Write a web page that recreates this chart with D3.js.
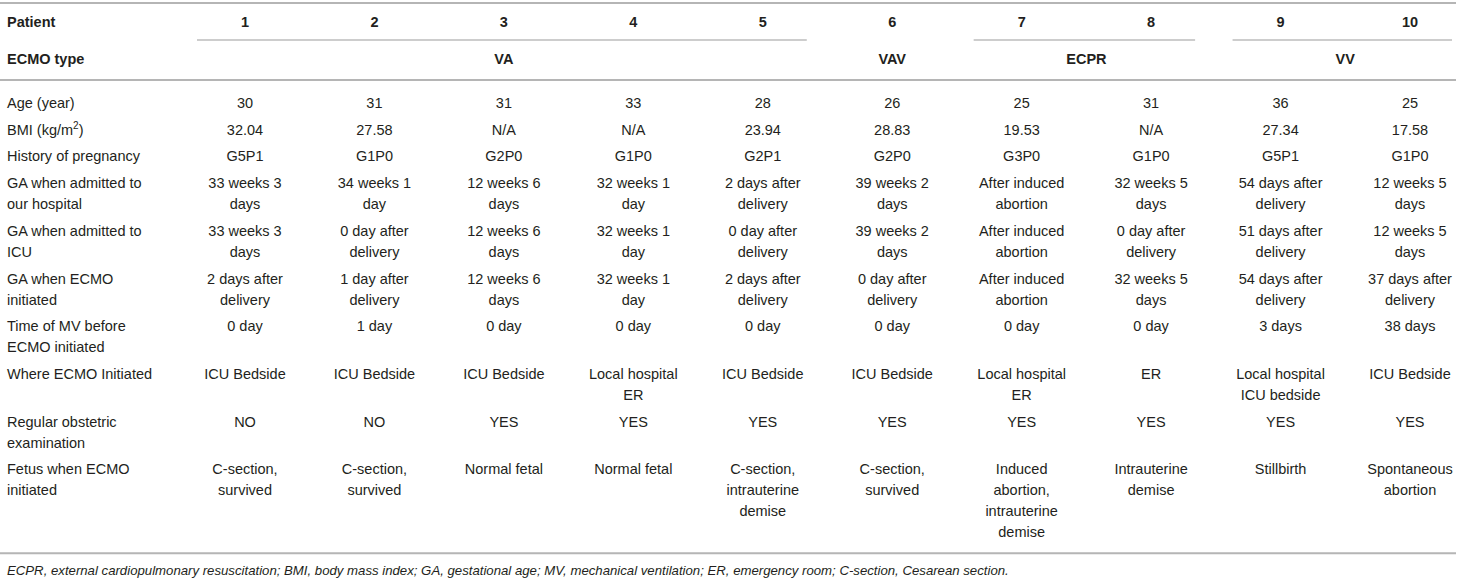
<!DOCTYPE html>
<html>
<head>
<meta charset="utf-8">
<script src="https://cdn.jsdelivr.net/npm/d3@7"></script>
<style>
  body { margin: 0; background: #fff; }
  svg text { font-family: "Liberation Sans", Arial, Helvetica, sans-serif; fill: #231f20; }
</style>
</head>
<body>
<svg id="chart"></svg>
<script>
const w = 1458;
const h = 581;
const lineH = 21;
const fontSize = 14.5;

// header data
const patients = ["1", "2", "3", "4", "5", "6", "7", "8", "9", "10"];
const ecmoGroups = [
  { type: "VA", first: "1", last: "5" },
  { type: "VAV", first: "6", last: "6" },
  { type: "ECPR", first: "7", last: "8" },
  { type: "VV", first: "9", last: "10" }
];

// row labels ("|" = line break, "^" = superscript)
const rowLabels = [
  "Age (year)",
  "BMI (kg/m^2)",
  "History of pregnancy",
  "GA when admitted to|our hospital",
  "GA when admitted to|ICU",
  "GA when ECMO|initiated",
  "Time of MV before|ECMO initiated",
  "Where ECMO Initiated",
  "Regular obstetric|examination",
  "Fetus when ECMO|initiated"
];

const age = ["30", "31", "31", "33", "28", "26", "25", "31", "36", "25"];
const bmi = ["32.04", "27.58", "N/A", "N/A", "23.94", "28.83", "19.53", "N/A", "27.34", "17.58"];
const pregnancy = ["G5P1", "G1P0", "G2P0", "G1P0", "G2P1", "G2P0", "G3P0", "G1P0", "G5P1", "G1P0"];
const gaHospital = ["33 weeks 3|days", "34 weeks 1|day", "12 weeks 6|days", "32 weeks 1|day", "2 days after|delivery",
                    "39 weeks 2|days", "After induced|abortion", "32 weeks 5|days", "54 days after|delivery", "12 weeks 5|days"];
const gaIcu = ["33 weeks 3|days", "0 day after|delivery", "12 weeks 6|days", "32 weeks 1|day", "0 day after|delivery",
               "39 weeks 2|days", "After induced|abortion", "0 day after|delivery", "51 days after|delivery", "12 weeks 5|days"];
const gaEcmo = ["2 days after|delivery", "1 day after|delivery", "12 weeks 6|days", "32 weeks 1|day", "2 days after|delivery",
                "0 day after|delivery", "After induced|abortion", "32 weeks 5|days", "54 days after|delivery", "37 days after|delivery"];
const mvTime = ["0 day", "1 day", "0 day", "0 day", "0 day", "0 day", "0 day", "0 day", "3 days", "38 days"];
const whereInit = ["ICU Bedside", "ICU Bedside", "ICU Bedside", "Local hospital|ER", "ICU Bedside",
                   "ICU Bedside", "Local hospital|ER", "ER", "Local hospital|ICU bedside", "ICU Bedside"];
const obstetric = ["NO", "NO", "YES", "YES", "YES", "YES", "YES", "YES", "YES", "YES"];
const fetus = ["C-section,|survived", "C-section,|survived", "Normal fetal", "Normal fetal", "C-section,|intrauterine|demise",
               "C-section,|survived", "Induced|abortion,|intrauterine|demise", "Intrauterine|demise", "Stillbirth", "Spontaneous|abortion"];

const rowValues = [age, bmi, pregnancy, gaHospital, gaIcu, gaEcmo, mvTime, whereInit, obstetric, fetus];

const footnote = "ECPR, external cardiopulmonary resuscitation; BMI, body mass index; GA, gestational age; " +
                 "MV, mechanical ventilation; ER, emergency room; C-section, Cesarean section.";

var chart = d3.select("#chart")
  .attr("width", w)
  .attr("height", h);

const xScale = d3.scalePoint()
                 .domain(patients)
                 .range([245, 1410]);

const labelX = 7;

// lay out rows: each row as tall as its longest cell
var rows = rowLabels.map((label, i) => {
  const cells = rowValues[i].map(v => v.split("|"));
  const n = d3.max([label.split("|").length, ...cells.map(c => c.length)]);
  return { label: label.split("|"), cells: cells, n: n };
});
var y = 103;
rows.forEach(r => {
  r.y = y;
  y += 26.7 + (r.n - 1) * lineH;
});
const last = rows[rows.length - 1];
const bottomRule = last.y + (last.n - 1) * lineH + 21;

function writeLines(sel, lines, x, y0, anchor) {
  const t = sel.append("text")
    .attr("x", x)
    .attr("y", y0)
    .attr("text-anchor", anchor)
    .attr("font-size", fontSize);
  lines.forEach((line, k) => {
    const ts = t.append("tspan")
      .attr("x", x)
      .attr("y", y0 + k * lineH)
      .attr("dy", "0.35em");
    if (line.includes("^")) {
      const parts = line.split("^");
      ts.text(parts[0]);
      ts.append("tspan").attr("font-size", 10).attr("dy", "-0.55em").text(parts[1][0]);
      ts.append("tspan").attr("dy", "0.4em").text(parts[1].slice(1));
    } else {
      ts.text(line);
    }
  });
  return t;
}

// rules
chart.append("g")
  .attr("stroke", "#b5b5b5")
  .attr("stroke-width", 2)
  .selectAll("line")
  .data([3, 80, bottomRule])
  .join("line")
  .attr("x1", 0)
  .attr("x2", 1456)
  .attr("y1", d => d)
  .attr("y2", d => d);

chart.append("g")
  .attr("stroke", "#bdbdbd")
  .attr("stroke-width", 1.5)
  .selectAll("line")
  .data(ecmoGroups.filter(g => g.first !== g.last))
  .join("line")
  .attr("x1", g => xScale(g.first) - 48)
  .attr("x2", g => Math.min(xScale(g.last) + 44, 1452))
  .attr("y1", 40)
  .attr("y2", 40);

// header
var header = chart.append("g").attr("font-weight", "bold");
writeLines(header, ["Patient"], labelX, 22, "start");
writeLines(header, ["ECMO type"], labelX, 59, "start");
patients.forEach(p => writeLines(header, [p], xScale(p), 22, "middle"));
ecmoGroups.forEach(g => writeLines(header, [g.type], (xScale(g.first) + xScale(g.last)) / 2, 59, "middle"));

// body
var body = chart.append("g");
rows.forEach(r => {
  writeLines(body, r.label, labelX, r.y, "start");
  r.cells.forEach((c, j) => writeLines(body, c, xScale(patients[j]), r.y, "middle"));
});

// footnote
chart.append("text")
  .attr("x", labelX)
  .attr("y", bottomRule + 17)
  .attr("dy", "0.35em")
  .attr("font-size", 13.2)
  .attr("font-style", "italic")
  .text(footnote);
</script>
</body>
</html>
